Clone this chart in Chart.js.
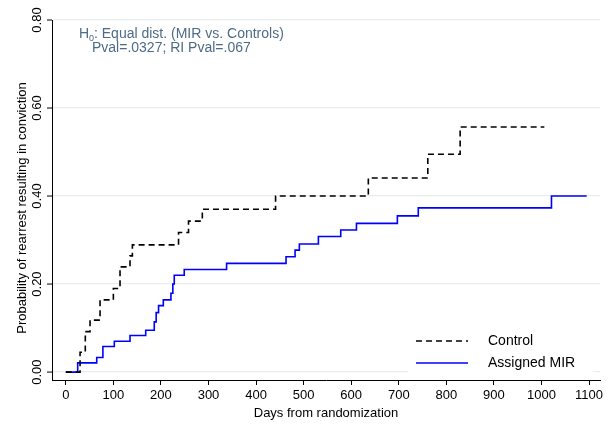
<!DOCTYPE html>
<html><head><meta charset="utf-8">
<script src="https://cdn.jsdelivr.net/npm/chart.js@4/dist/chart.umd.min.js"></script>
<style>html,body{margin:0;padding:0;background:#fff}#w{width:616px;height:427px}</style>
</head><body><div id="w"><canvas id="c"></canvas></div>
<script>
const controlDays = [0, 30, 41, 51, 72, 100, 114, 135, 140, 237, 258, 287, 441, 636, 761, 829, 1006];
const controlVals = [0, 0.045, 0.092, 0.118, 0.164, 0.19, 0.239, 0.264, 0.289, 0.317, 0.343, 0.37, 0.40, 0.441, 0.495, 0.557, 0.557];
const mirDays = [0, 25, 65, 78, 102, 135, 168, 186, 190, 195, 205, 221, 225, 228, 249, 338, 463, 482, 491, 531, 578, 611, 697, 741, 1021, 1095];
const mirVals = [0, 0.021, 0.033, 0.058, 0.07, 0.083, 0.095, 0.114, 0.135, 0.151, 0.164, 0.179, 0.20, 0.22, 0.233, 0.247, 0.262, 0.277, 0.291, 0.308, 0.323, 0.338, 0.355, 0.373, 0.40, 0.40];
const xTicks = [0,100,200,300,400,500,600,700,800,900,1000,1100];
const yTicks = [0, 0.2, 0.4, 0.6, 0.8];
const yTickLabels = ['0.00','0.20','0.40','0.60','0.80'];
const seriesNames = ['Control', 'Assigned MIR'];

const pts = (d, v) => d.map((x, i) => ({x, y: v[i]}));
const FONT = 'Liberation Sans, Arial, sans-serif';

const overlay = {
  id: 'overlay',
  afterDraw(chart) {
    const ctx = chart.ctx, y = chart.scales.y, a = chart.chartArea;
    ctx.save();
    ctx.fillStyle = '#000'; ctx.strokeStyle = '#000'; ctx.lineWidth = 1;
    ctx.font = '13px ' + FONT; ctx.textAlign = 'center'; ctx.textBaseline = 'bottom';
    yTicks.forEach((t, i) => {
      const py = y.getPixelForValue(t);
      ctx.beginPath(); ctx.moveTo(a.left - 5, py); ctx.lineTo(a.left, py); ctx.stroke();
      ctx.save(); ctx.translate(a.left - 8, py); ctx.rotate(-Math.PI / 2);
      ctx.fillText(yTickLabels[i], 0, 0); ctx.restore();
    });
    ctx.save(); ctx.translate(22, (a.top + a.bottom) / 2 + 8); ctx.rotate(-Math.PI / 2);
    ctx.textBaseline = 'middle';
    ctx.fillText('Probability of rearrest resulting in conviction', 0, 0); ctx.restore();
    ctx.fillStyle = '#4d6b87'; ctx.textAlign = 'left'; ctx.textBaseline = 'alphabetic';
    ctx.font = '14px ' + FONT;
    ctx.fillText('H', 79, 38);
    ctx.font = '9px ' + FONT; ctx.fillText('0', 89, 41);
    ctx.font = '14px ' + FONT;
    ctx.fillText(': Equal dist. (MIR vs. Controls)', 94, 38);
    ctx.fillText('Pval=.0327; RI Pval=.067', 92, 52);
    ctx.fillStyle = '#fff'; ctx.fillRect(408, 326, 186, 50);
    ctx.lineWidth = 1.6;
    ctx.strokeStyle = '#000'; ctx.setLineDash([6, 4]);
    ctx.beginPath(); ctx.moveTo(416, 341); ctx.lineTo(468, 341); ctx.stroke();
    ctx.setLineDash([]); ctx.strokeStyle = '#0000ff';
    ctx.beginPath(); ctx.moveTo(416, 363); ctx.lineTo(468, 363); ctx.stroke();
    ctx.fillStyle = '#000'; ctx.textBaseline = 'middle';
    ctx.font = '14px ' + FONT;
    ctx.fillText(seriesNames[0], 488, 341);
    ctx.fillText(seriesNames[1], 488, 363);
    ctx.restore();
  }
};

new Chart(document.getElementById('c'), {
  type: 'line',
  data: { datasets: [
    { label: seriesNames[0], data: pts(controlDays, controlVals), stepped: 'before', borderColor: '#000', borderWidth: 1.6, borderDash: [6, 4], pointRadius: 0, fill: false },
    { label: seriesNames[1], data: pts(mirDays, mirVals), stepped: 'before', borderColor: '#0000ff', borderWidth: 1.6, pointRadius: 0, fill: false }
  ]},
  options: {
    responsive: true, maintainAspectRatio: false, animation: false,
    layout: { padding: { left: 52, right: 16, top: 20, bottom: 6 } },
    plugins: { legend: { display: false }, tooltip: { enabled: false } },
    scales: {
      x: {
        type: 'linear', min: -29, max: 1123,
        afterBuildTicks: s => { s.ticks = xTicks.map(v => ({value: v})); },
        afterFit: s => { s.height = 41; },
        ticks: { color: '#000', font: { family: FONT, size: 13 }, maxRotation: 0, padding: 3, callback: v => String(v) },
        grid: { drawOnChartArea: false, drawTicks: true, tickLength: 5, color: '#000' },
        border: { display: true, color: '#000' },
        title: { display: true, text: 'Days from randomization', color: '#000', font: { family: FONT, size: 13 }, padding: { top: 0, bottom: 0 } }
      },
      y: {
        type: 'linear', min: -0.018, max: 0.8,
        afterBuildTicks: s => { s.ticks = yTicks.map(v => ({value: v})); },
        afterFit: s => { s.width = 0; },
        ticks: { display: false },
        grid: { color: '#e6eef0', drawTicks: false, lineWidth: 1.2 },
        border: { display: true, color: '#000' }
      }
    }
  },
  plugins: [overlay]
});
</script></body></html>
